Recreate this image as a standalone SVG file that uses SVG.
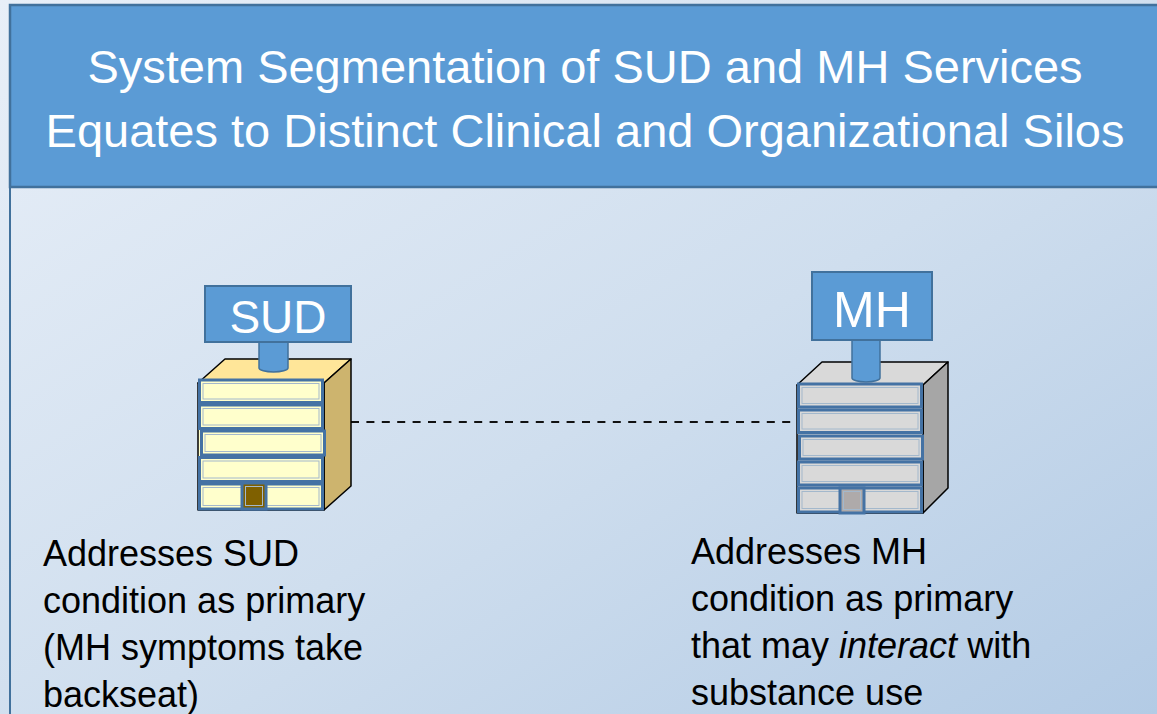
<svg xmlns="http://www.w3.org/2000/svg" width="1157" height="714" viewBox="0 0 1157 714">
  <defs>
    <linearGradient id="bg" x1="0" y1="0" x2="1" y2="1">
      <stop offset="0" stop-color="#e8eff8"/>
      <stop offset="0.55" stop-color="#cfdeee"/>
      <stop offset="1" stop-color="#b3cbe5"/>
    </linearGradient>
    <style>
      .title { font-family: "Liberation Sans", Arial, sans-serif; font-size: 47px; fill: #ffffff; text-anchor: middle; }
      .sign { fill: #5b9bd5; stroke: #41719c; stroke-width: 2; }
      .signtext { font-family: "Liberation Sans", Arial, sans-serif; fill: #ffffff; text-anchor: middle; }
      .pole { fill: #5b9bd5; stroke: #41719c; stroke-width: 1.5; }
      .edge { stroke: #000000; stroke-width: 1.5; stroke-linejoin: round; }
      .floor { stroke: #4472a4; stroke-width: 3; }
      .inner { fill: none; stroke: #a3b8cc; stroke-width: 1; }
      .body { font-family: "Liberation Sans", Arial, sans-serif; font-size: 36px; fill: #000000; }
      .link { stroke: #111111; stroke-width: 2; stroke-dasharray: 8 7.4; fill: none; }
    </style>
  </defs>

  <!-- page background -->
  <rect x="0" y="0" width="1157" height="714" fill="url(#bg)"/>
  <!-- panel outline -->
  <line x1="10" y1="187" x2="10" y2="714" stroke="#41719c" stroke-width="2"/>

  <!-- title banner -->
  <g id="header">
    <rect x="10" y="5" width="1160" height="182" fill="#5b9bd5" stroke="#41719c" stroke-width="2.5"/>
    <text class="title" x="585" y="83">System Segmentation of SUD and MH Services</text>
    <text class="title" x="585" y="147">Equates to Distinct Clinical and Organizational Silos</text>
  </g>

  <!-- dashed link between the two buildings -->
  <g id="connectors">
    <line class="link" x1="351" y1="422" x2="797" y2="422"/>
  </g>

  <!-- SUD building -->
  <g id="node-sud">
    <path d="M198,383 L225,359 L351,359 L324,383 Z" fill="#ffe699" class="edge"/>
    <path d="M324,383 L351,359 L351,486 L324,510 Z" fill="#cdb46e" class="edge"/>
    <rect x="198" y="383" width="126" height="127" fill="#ffffcc" class="edge"/>
    <path class="pole" d="M259,340 V368 A14.5,4 0 0 0 288,368 V340 Z"/>
    <rect class="sign" x="205" y="286" width="146" height="56"/>
    <text class="signtext" x="278" y="333" font-size="46">SUD</text>
    <g fill="#ffffcc">
      <rect class="floor" x="199.5" y="380" width="123" height="22.5"/>
      <rect class="inner" x="203" y="383.5" width="116" height="15.5"/>
      <rect class="floor" x="199.5" y="405" width="123" height="23.5"/>
      <rect class="inner" x="203" y="408.5" width="116" height="16.5"/>
      <rect class="floor" x="201.5" y="431" width="123" height="24"/>
      <rect class="inner" x="205" y="434.5" width="116" height="17"/>
      <rect class="floor" x="199.5" y="457.5" width="123" height="24"/>
      <rect class="inner" x="203" y="461" width="116" height="17"/>
      <rect class="floor" x="199.5" y="484" width="123" height="25"/>
      <rect class="inner" x="203" y="487.5" width="116" height="18"/>
    </g>
    <rect x="242" y="483" width="24" height="26" fill="#7f6000" stroke="#4472a4" stroke-width="3"/>
    <rect x="245.5" y="486.5" width="17" height="19" fill="none" stroke="#a3b8cc" stroke-width="1"/>
  </g>

  <!-- MH building -->
  <g id="node-mh">
    <path d="M797,385 L822,362 L948,362 L923,385 Z" fill="#d9d9d9" class="edge"/>
    <path d="M923,385 L948,362 L948,488 L923,513 Z" fill="#a6a6a6" class="edge"/>
    <rect x="797" y="385" width="126" height="128" fill="#d9d9d9" class="edge"/>
    <path class="pole" d="M852,338 V378 A14,4 0 0 0 880,378 V338 Z"/>
    <rect class="sign" x="812" y="272" width="120" height="68"/>
    <text class="signtext" x="872" y="327" font-size="50">MH</text>
    <g fill="#d9d9d9">
      <rect class="floor" x="798.5" y="384" width="123" height="23"/>
      <rect class="inner" x="802" y="387.5" width="116" height="16"/>
      <rect class="floor" x="798.5" y="410" width="123" height="22.5"/>
      <rect class="inner" x="802" y="413.5" width="116" height="15.5"/>
      <rect class="floor" x="799.5" y="436" width="123" height="23"/>
      <rect class="inner" x="803" y="439.5" width="116" height="16"/>
      <rect class="floor" x="798.5" y="462" width="123" height="23"/>
      <rect class="inner" x="802" y="465.5" width="116" height="16"/>
      <rect class="floor" x="798.5" y="488" width="123" height="24"/>
      <rect class="inner" x="802" y="491.5" width="116" height="17"/>
    </g>
    <rect x="840" y="488" width="24" height="25" fill="#aeaaaa" stroke="#4472a4" stroke-width="3"/>
    <rect x="843.5" y="491.5" width="17" height="18" fill="none" stroke="#a3b8cc" stroke-width="1"/>
  </g>

  <!-- captions -->
  <g id="label-sud">
    <text class="body" x="43" y="566">Addresses SUD</text>
    <text class="body" x="43" y="613">condition as primary</text>
    <text class="body" x="43" y="660">(MH symptoms take</text>
    <text class="body" x="43" y="707">backseat)</text>
  </g>
  <g id="label-mh">
    <text class="body" x="691" y="564">Addresses MH</text>
    <text class="body" x="691" y="611">condition as primary</text>
    <text class="body" x="691" y="658">that may <tspan font-style="italic">interact</tspan> with</text>
    <text class="body" x="691" y="705">substance use</text>
  </g>
</svg>
